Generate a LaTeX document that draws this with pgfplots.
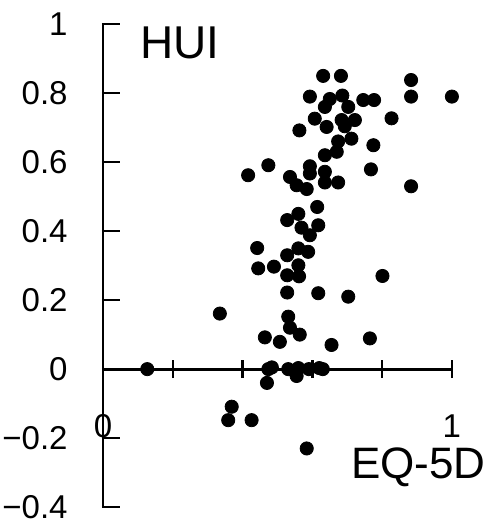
\documentclass[border=0pt]{standalone}
\usepackage{fontspec}
\setmainfont{Liberation Sans}
\usepackage{pgfplots}
\pgfplotsset{compat=1.18}

\begin{document}
\begin{tikzpicture}
\begin{axis}[
    x=174.5pt, y=172.5pt,
    xmin=0, xmax=1, ymin=-0.4, ymax=1,
    axis lines=middle,
    axis line style={-, line width=1.4pt},
    clip=false,
    hide obscured x ticks=false,
    hide obscured y ticks=false,
    xtick={0,0.2,0.4,0.6,0.8,1},
    xticklabels={0,,,,,1},
    ytick={-0.4,-0.2,0,0.2,0.4,0.6,0.8,1},
    yticklabels={−0.4,−0.2,0,0.2,0.4,0.6,0.8,1},
    tick align=center,
    major tick length=9pt,
    tick style={line width=1.2pt, black},
    ytick style={xshift=4pt},
    xticklabel style={anchor=center, inner sep=0pt, yshift=-24pt, font=\fontsize{16.5}{19}\selectfont},
    yticklabel style={anchor=east, inner sep=0pt, xshift=-13pt, font=\fontsize{16.5}{19}\selectfont},
]
\addplot[only marks, mark=*, mark size=3.3pt, black] coordinates {
(0.631,0.85) (0.682,0.85) (0.883,0.838) (0.593,0.79) (0.650,0.783)
(0.686,0.793) (0.746,0.78) (0.777,0.78) (0.883,0.79) (1.0,0.79)
(0.636,0.76) (0.703,0.76) (0.607,0.726) (0.641,0.702) (0.684,0.722)
(0.722,0.722) (0.827,0.727) (0.693,0.704) (0.563,0.692) (0.674,0.66)
(0.712,0.668) (0.775,0.649) (0.636,0.62) (0.670,0.63) (0.474,0.591)
(0.416,0.562) (0.593,0.588) (0.593,0.567) (0.636,0.572) (0.768,0.579)
(0.536,0.557) (0.555,0.533) (0.584,0.522) (0.636,0.541) (0.674,0.541)
(0.883,0.53)
(0.614,0.47) (0.560,0.45) (0.528,0.432) (0.617,0.417) (0.569,0.41)
(0.593,0.388) (0.442,0.351) (0.560,0.35) (0.528,0.33) (0.588,0.34)
(0.445,0.292) (0.49,0.297) (0.560,0.301) (0.528,0.272) (0.562,0.269)
(0.801,0.27) (0.528,0.222) (0.617,0.22) (0.703,0.21) (0.335,0.161)
(0.531,0.152) (0.536,0.12) (0.464,0.092) (0.507,0.079) (0.564,0.1)
(0.655,0.07) (0.765,0.089)
(0.127,0.0) (0.474,0.0) (0.484,0.005) (0.531,0.0) (0.560,0.003)
(0.555,-0.02) (0.59,0.0) (0.62,0.003) (0.63,0.0) (0.47,-0.04)
(0.369,-0.109) (0.359,-0.148) (0.426,-0.148) (0.584,-0.23)
};
\node[anchor=base west, inner sep=0pt, font=\fontsize{23}{26}\selectfont] at (axis cs:0.106,0.901) {HUI};
\node[anchor=base west, inner sep=0pt, font=\fontsize{22}{25}\selectfont] at (axis cs:0.71,-0.318) {EQ-5D};
\path (axis cs:-0.295,-0.449) rectangle (axis cs:1.097,1.07);
\end{axis}
\end{tikzpicture}
\end{document}
